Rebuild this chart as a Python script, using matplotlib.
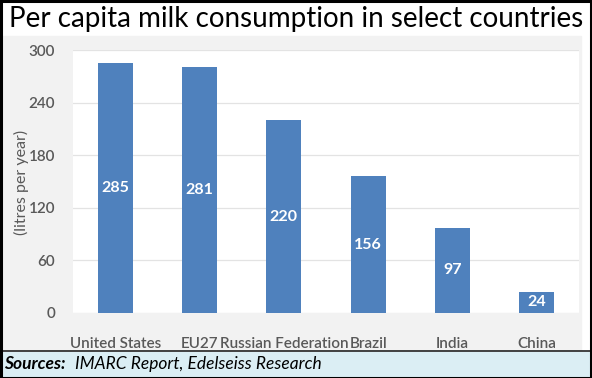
import matplotlib.pyplot as plt
from matplotlib.patches import Rectangle
from matplotlib.lines import Line2D

countries = ["United States", "EU27", "Russian Federation", "Brazil", "India", "China"]
consumption = [285, 281, 220, 156, 97, 24]
y_ticks = [0, 60, 120, 180, 240, 300]

W, H = 592, 378
bar_color = "#4F81BD"
text_gray = "#595959"

plt.rcParams["font.family"] = ["Lato", "DejaVu Sans"]

fig = plt.figure(figsize=(W / 100, H / 100), dpi=100)

def px(x0, y0, x1, y1):
    # pixel box (top-left origin) -> figure fraction rect
    return (x0 / W, 1 - y1 / H, (x1 - x0) / W, (y1 - y0) / H)

def block(box, color):
    l, b, w, h = px(*box)
    fig.patches.append(Rectangle((l, b), w, h, transform=fig.transFigure,
                                 color=color, zorder=-2))

# background blocks
block((2, 36, 581, 350), "#F2F2F2")
block((2, 352, 590, 376), "#DBEEF4")
fig.lines.append(Line2D([2 / W, 590 / W], [1 - 351 / H, 1 - 351 / H],
                        transform=fig.transFigure, color="#222222", lw=1.2, zorder=-1))
# outer border
fig.patches.append(Rectangle((0.5 / W, 0.5 / H), 1 - 1.5 / W, 1 - 1.5 / H,
                             transform=fig.transFigure, fill=False,
                             edgecolor="black", lw=2.2, zorder=5))

ax = fig.add_axes(px(73, 50, 579, 313))
ax.set_facecolor("white")

x = range(len(countries))
bars = ax.bar(x, consumption, width=0.415, color=bar_color, zorder=3)
for b, v in zip(bars, consumption):
    ax.text(b.get_x() + b.get_width() / 2, v / 2, str(v), ha="center", va="center",
            color="white", fontsize=11.5, fontweight="bold", zorder=4)

ax.set_xlim(-0.5, len(countries) - 0.5)
ax.set_ylim(0, 300)
ax.set_yticks(y_ticks)
ax.set_xticks(list(x))
ax.set_xticklabels(countries, color=text_gray, fontsize=11, fontweight="semibold")
for t in ax.get_yticklabels():
    t.set_fontweight("semibold")
ax.tick_params(axis="x", length=0, pad=17)
ax.tick_params(axis="y", length=0, pad=13, labelcolor=text_gray, labelsize=11)
ax.grid(axis="y", color="#E3E3E3", lw=0.9, zorder=1)
for s in ax.spines.values():
    s.set_visible(False)

fig.text(21 / W, 1 - 182 / H, "(litres per year)", rotation=90, ha="center", va="center",
         color=text_gray, fontsize=11.5)

fig.text(0.5, 1 - 19 / H, "Per capita milk consumption in select countries",
         ha="center", va="center", fontsize=20, color="black")

fig.text(4 / W, 1 - 364 / H, "Sources:", ha="left", va="center", fontsize=12.5,
         style="italic", fontweight="bold", color="black")
fig.text(75 / W, 1 - 364 / H, "IMARC Report, Edelseiss Research", ha="left", va="center",
         fontsize=12.5, style="italic", color="black")

fig.savefig("out.png", dpi=100)
